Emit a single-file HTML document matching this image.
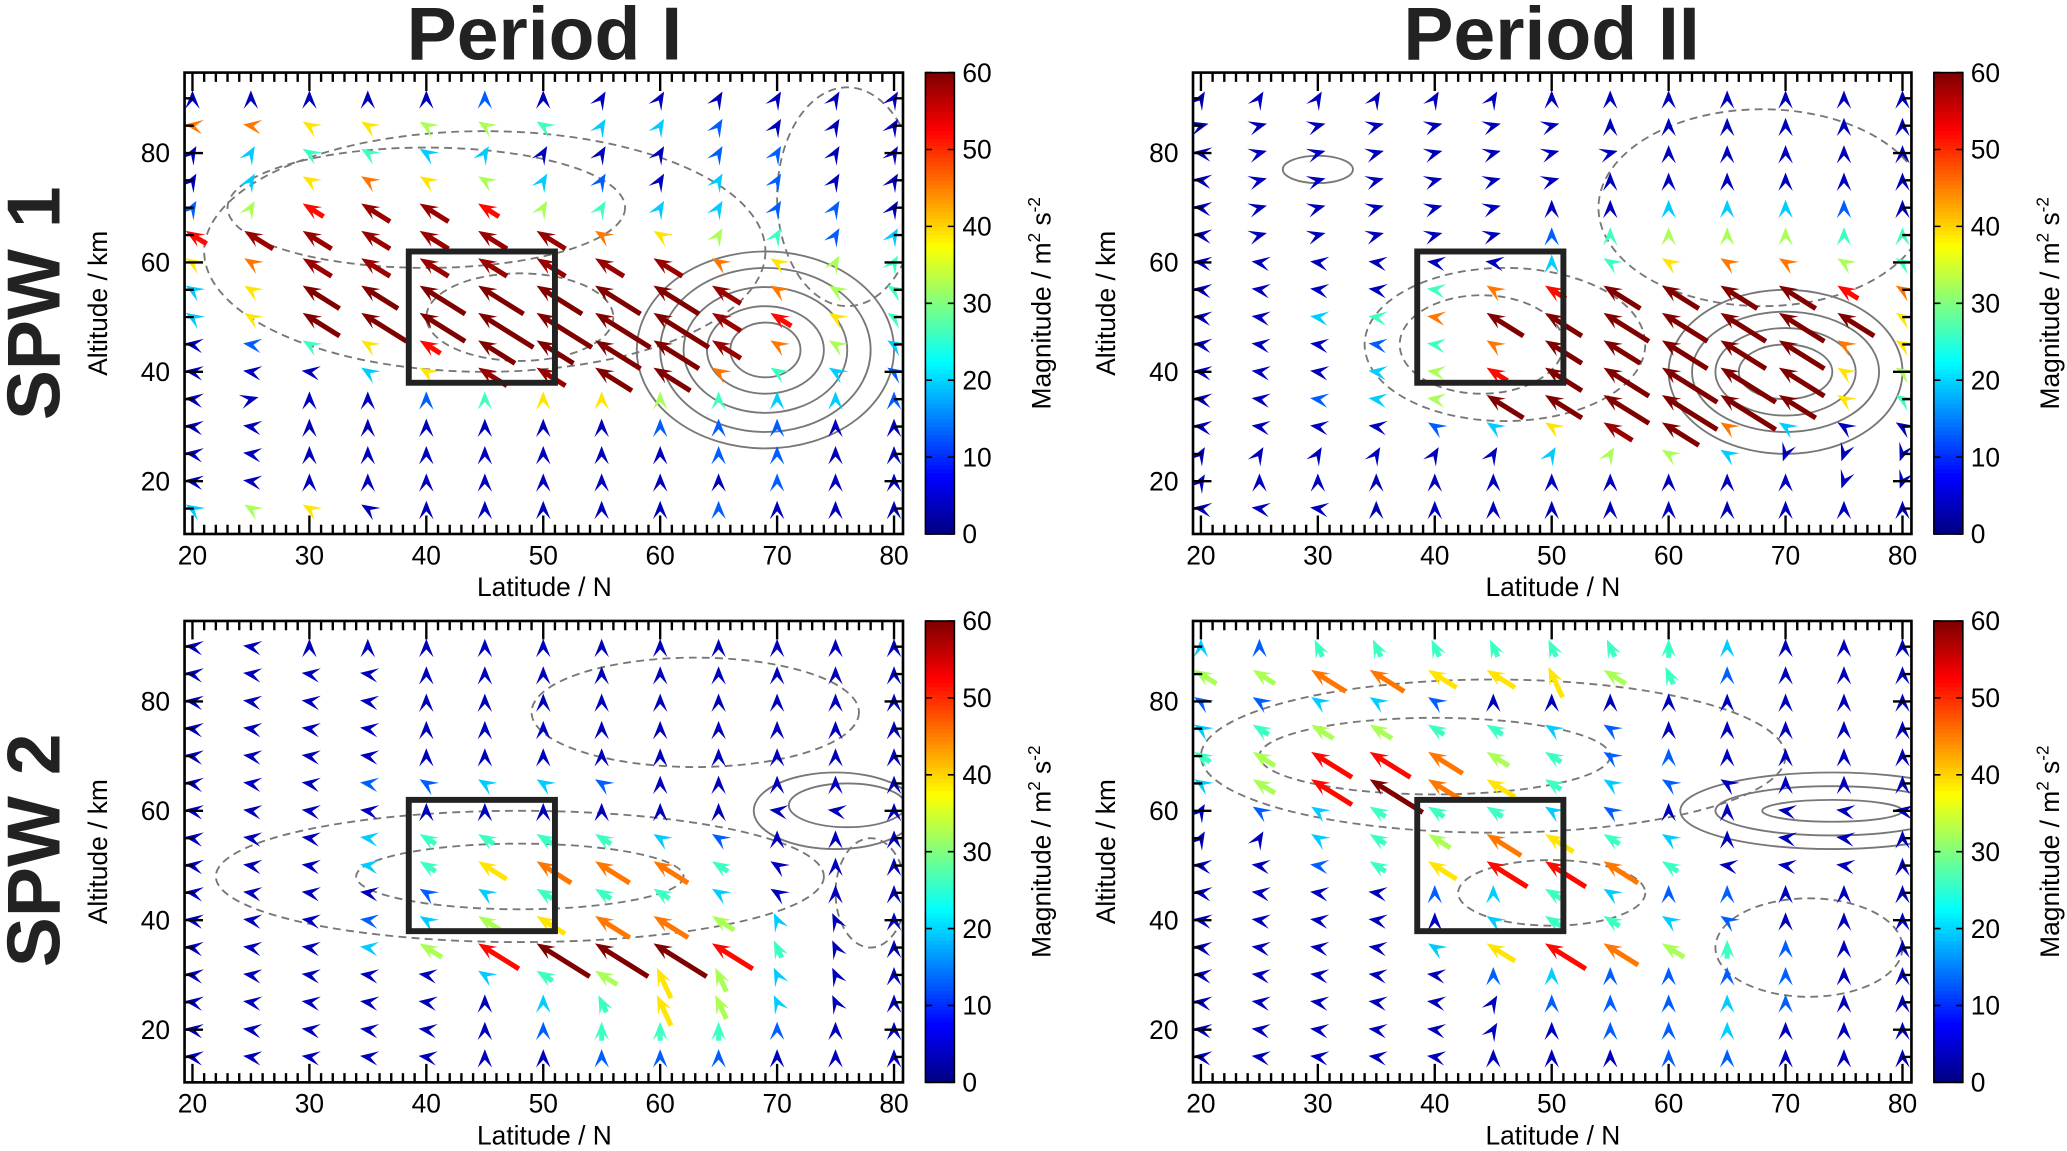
<!DOCTYPE html>
<html><head><meta charset="utf-8"><style>
html,body{margin:0;padding:0;background:#fff;}
svg{display:block;font-family:"Liberation Sans",Arial,sans-serif;}
</style></head><body>
<svg id="fig" width="2067" height="1151" viewBox="0 0 1568 873" xmlns="http://www.w3.org/2000/svg"></svg>
<script>
const lats=[20,25,30,35,40,45,50,55,60,65,70,75,80];
const alts=[90,85,80,75,70,65,60,55,50,45,40,35,30,25,20,15];
const xTickLabels=[20,30,40,50,60,70,80];
const yTickLabels=[20,40,60,80];
const cbTickLabels=[0,10,20,30,40,50,60];
const boxLat=[38.5,51];
const boxAlt=[38,62];
const magP1=["1111121111111","7766554332111","1344331112211","1367653213211","2589985433221","8999999765423","6799999997654","36AABBBBB9754","36ABBCCCC9864","12468AABB9753","1113699AA7432","1111246654332","1111111122211","1111111112211","1111111111211","3561111112111"];
const dirP1=["uuuuuuurrrrrr","wwlllllrrrrrr","rrlllrrrrrrrr","rrllllrrrrrrr","rrllllrrrrrrr","lllllllllrrrr","lllllllllllrr","lllllllllllll","lllllllllllll","wwlllllllllll","wwwllllllllll","weuuuuuuuuuuu","wwuuuuuuuuuuu","wwuuuuuuuuuuu","wwuuuuuuuuuuu","lllluuuuuuuuu"];
const magP2=["1111111111111","1111111111111","1111111111111","1111111111111","1111111133321","1111112455544","1111113467754","1111478AAAA87","11347AABBBBA6","111247AABBB76","111358ABCCB65","11235AABCCA64","11112369A7311","1111113553111","1111111111111","1111111111111"];
const dirP2=["rrrrrruuuuuuu","eeeeeeeuuuuuu","weeeeeeeuuuuu","weeeeeeuuuuuu","weeeeeuuuuuuu","weeeeeuuuuuuu","wwwwwwullllll","wwwwwllllllll","wwwwwllllllll","wwwwwllllllll","wwwwwllllllll","wwwwwllllllll","wwwwlllllllll","rrrrrrrrllddd","ruuuuuuuuuudd","wwwuuuuuuuuuu"];
const magP3=["1111111111111","1111111111111","1111111111111","1111111111111","1111111111111","1112233211111","1111111111111","1113444432111","1113467774111","1111234443111","1112356775311","111358AAA8411","1111134565311","1111113465311","1111112444211","1111111222111"];
const dirP3=["wwuuuuuuuuuuu","wwwwuuuuuuuuu","wwwwuuuuuuuuu","wwwwuuuuuuuuu","wwwwuuuuuuuuu","wwwwlllluuuuu","wwwwuuuuuuwwu","wwwwlllllluuu","wwwwllllllluu","wwwwllllllluu","wwwwllllllaau","wwwwllllllaau","wwwwwlllaaaau","wwwwwuuaaaaau","wwwwwuuuuuuuu","wwwwwuuuuuuuu"];
const magP4=["3244444443111","5577666542111","2233211111111","3455443211111","4588754221111","358A764321111","1234443211111","1134576431111","1124688741111","1111234322111","1111134432111","1111368754211","1111123222211","1111112223211","1111111223111","1111111122111"];
const dirP4=["uuaaaaaauuuuu","llllllalauuuu","llllluuuuuuuu","lllllllluuuuu","lllllllluuuuu","lllllllllluuu","rllllllluuwww","rrllllllluwwu","wwwllllllwwwu","wwwwuulluuuuu","wwwwullllluuu","wwwwllllluuuu","wwwwwuuuuuuuu","wwwwwruuuuuuu","wwwwwruuuuuuu","wwwwwuuuuuuuu"];
// contour ellipses: [lat, alt, rLat, rAlt, dashed]
const contP1=[[69,44,11,18,0],[69,44,9,15,0],[69,44,7,11.5,0],[69,44,5,8,0],[69,44,3,5,0],[45,62,24,22,1],[40,70,17,11,1],[48,50,8,8,1],[76,72,6,20,1]];
const contP2=[[70,40,10,15,0],[70,40,8,11,0],[70,40,6,8,0],[70,40,4,5,0],[46,45,12,14,1],[44,45,7,9,1],[68,70,14,18,1],[30,77,3,2.5,0]];
const contP3=[[75,60,7,7,0],[76,61,5,4,0],[48,48,26,12,1],[48,48,14,6,1],[63,78,14,10,1],[78,45,3,10,1]];
const contP4=[[74,60,13,7,0],[74,60,10,4.5,0],[74,60,6,2,0],[45,70,25,14,1],[40,70,15,7,1],[50,45,8,6,1],[72,35,8,9,1]];

const NS="http://www.w3.org/2000/svg";
const svg=document.getElementById('fig');
function mk(tag,attrs,parent){const e=document.createElementNS(NS,tag);for(const k in attrs)e.setAttribute(k,attrs[k]);(parent||svg).appendChild(e);return e;}
function jet(t){t=Math.max(0,Math.min(1,t));const c=x=>Math.round(255*Math.max(0,Math.min(1,1.5-Math.abs(x))));return `rgb(${c(4*t-3)},${c(4*t-2)},${c(4*t-1)})`;}
function decode(ch){const m={A:65,B:72,C:80,D:88,'1':3.5};return m[ch]!==undefined?m[ch]:(+ch)*6.5;}
const ANG={u:90,a:115,l:148,w:172,r:60,e:15,d:250,s:285};

const panels=[
 {ox:0,oy:0,mag:magP1,dir:dirP1,cont:contP1,name:'spw1-period1',lo:45,k:1.1},
 {ox:765,oy:0,mag:magP2,dir:dirP2,cont:contP2,name:'spw1-period2',lo:45,k:1.1},
 {ox:0,oy:416,mag:magP3,dir:dirP3,cont:contP3,name:'spw2-period1',lo:22,k:0.85},
 {ox:765,oy:416,mag:magP4,dir:dirP4,cont:contP4,name:'spw2-period2',lo:22,k:0.85}
];

panels.forEach(p=>{
 const xs=lat=>146+(lat-20)*8.87+p.ox;
 const ys=alt=>116-(alt-80)*4.15+p.oy;
 const g=mk('g',{});
 
 
 const X0=140+p.ox,X1=685+p.ox,Y0=55+p.oy,Y1=405+p.oy;
 const cp='clip-'+p.name;
 const cl=mk('clipPath',{id:cp},g);mk('rect',{x:X0,y:Y0,width:X1-X0,height:Y1-Y0},cl);
 const cg=mk('g',{'clip-path':`url(#${cp})`},g);
 p.cont.forEach(c=>{
  const el=mk('ellipse',{cx:xs(c[0]),cy:ys(c[1]),rx:c[2]*8.87,ry:c[3]*4.15,fill:'none',stroke:'#777','stroke-width':1.4,'stroke-dasharray':c[4]?'6 4':'none'},cg);
  
  
 });
 alts.forEach((alt,i)=>{lats.forEach((lat,j)=>{
  const v=decode(p.mag[i][j]);const a=ANG[p.dir[i][j]]*Math.PI/180;
  const dx=Math.cos(a),dy=-Math.sin(a),nx=-dy,ny=dx;
  const col=jet(v/60);
  const len=11+Math.max(0,v-p.lo)*p.k;
  const tx=xs(lat)+dx*6,ty=ys(alt)+dy*6;
  const ag=mk('g',{},cg);
  
  
  if(len>13){mk('line',{x1:tx-dx*len,y1:ty-dy*len,x2:tx-dx*8,y2:ty-dy*8,stroke:col,'stroke-width':3.8},ag);}
  const bx=tx-dx*12,by=ty-dy*12;
  const pts=[[tx,ty],[bx+nx*5.5-dx*2,by+ny*5.5-dy*2],[tx-dx*8,ty-dy*8],[bx-nx*5.5-dx*2,by-ny*5.5-dy*2]];
  mk('polygon',{points:pts.map(q=>q[0].toFixed(1)+','+q[1].toFixed(1)).join(' '),fill:col},ag);
 });});
 const fr=mk('rect',{x:X0,y:Y0,width:X1-X0,height:Y1-Y0,fill:'none',stroke:'#000','stroke-width':2},g);
 
 
 let d='';
 for(let lat=19;lat<=81;lat++){const x=xs(lat);if(x<X0||x>X1)continue;const L=lat%10===0?14:7;d+=`M${x},${Y0}v${L}M${x},${Y1}v${-L}`;}
 for(let alt=15;alt<=90;alt+=5){const y=ys(alt);const L=alt%20===0?14:7;d+=`M${X0},${y}h${L}M${X1},${y}h${-L}`;}
 mk('path',{d:d,stroke:'#000','stroke-width':1.8,fill:'none'},g);
 xTickLabels.forEach(t=>{const e=mk('text',{x:xs(t),y:Y1+23,'font-size':20,'text-anchor':'middle'},g);e.textContent=t;
  });
 yTickLabels.forEach(t=>{const e=mk('text',{x:X0-11,y:ys(t)+7,'font-size':20,'text-anchor':'end'},g);e.textContent=t;
  });
 const xl=mk('text',{x:413+p.ox,y:Y1+47,'font-size':20,'text-anchor':'middle'},g);xl.textContent='Latitude / N';
 
 const yl=mk('text',{x:0,y:0,'font-size':20,'text-anchor':'middle',transform:`translate(${81+p.ox},${230+p.oy}) rotate(-90)`},g);yl.textContent='Altitude / km';
 
 const bx=mk('rect',{x:xs(boxLat[0]),y:ys(boxAlt[1]),width:xs(boxLat[1])-xs(boxLat[0]),height:ys(boxAlt[0])-ys(boxAlt[1]),fill:'none',stroke:'#222','stroke-width':4.5},g);
 
 const cbg=mk('g',{},g);
 
 const CX=702+p.ox,CW=22;
 const N=120;for(let k=0;k<N;k++){const y=Y1-(k+1)*(Y1-Y0)/N;mk('rect',{x:CX,y:y,width:CW,height:(Y1-Y0)/N+0.6,fill:jet((k+0.5)/N)},cbg);}
 mk('rect',{x:CX,y:Y0,width:CW,height:Y1-Y0,fill:'none',stroke:'#000','stroke-width':1.2},cbg);
 cbTickLabels.forEach(t=>{const y=Y1-t/60*(Y1-Y0);mk('path',{d:`M${CX},${y}h5M${CX+CW},${y}h-5`,stroke:'#000','stroke-width':1.2},cbg);
  const e=mk('text',{x:CX+CW+6,y:y+7,'font-size':20},cbg);e.textContent=t;
  });
 const ct=mk('text',{x:0,y:0,'font-size':20,'text-anchor':'middle',transform:`translate(${797+p.ox},${230+p.oy}) rotate(-90)`},cbg);
 ct.innerHTML='Magnitude / m<tspan font-size="13" dy="-8">2</tspan><tspan dy="8"> s</tspan><tspan font-size="13" dy="-8">-2</tspan>';
 
});
[['Period I',413,'title-period-1'],['Period II',1177,'title-period-2']].forEach(t=>{
 const e=mk('text',{x:t[1],y:45,'font-size':57,'font-weight':'bold','text-anchor':'middle',fill:'#222'});e.textContent=t[0];
 });
[['SPW 1',230,'row-label-spw1'],['SPW 2',645,'row-label-spw2']].forEach(t=>{
 const e=mk('text',{x:0,y:0,'font-size':57,'font-weight':'bold','text-anchor':'middle',fill:'#222',transform:`translate(45,${t[1]}) rotate(-90)`});e.textContent=t[0];
 });
</script>
</body></html>
